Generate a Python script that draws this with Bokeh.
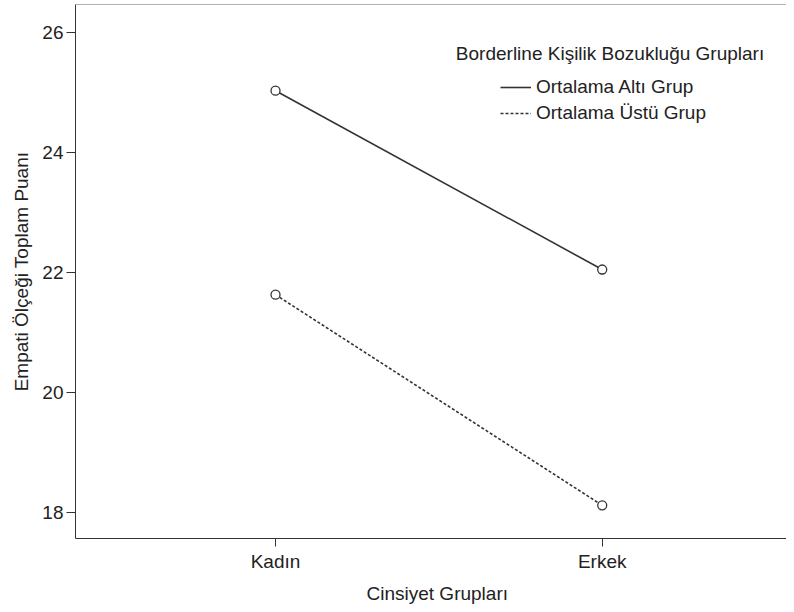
from bokeh.plotting import figure
from bokeh.models import Range1d, FixedTicker, Legend, LegendItem, Label, Span, Title
from bokeh.embed import file_html
from bokeh.resources import INLINE

# ---- data ----
categories = ["Kadın", "Erkek"]
groups = ["Ortalama Altı Grup", "Ortalama Üstü Grup"]
alti_values = [25.03, 22.05]
ustu_values = [21.63, 18.12]
y_ticks = [18, 20, 22, 24, 26]
legend_title = "Borderline Kişilik Bozukluğu Grupları"
x_label = "Cinsiyet Grupları"
y_label = "Empati Ölçeği Toplam Puanı"

FONT = "Liberation Sans"
FS = "19px"
TXT = "#222222"
LINE = "#333333"

x = list(range(1, len(categories) + 1))

Y0, Y1 = 17.567, 26.467
p = figure(width=786, height=610, output_backend="svg", toolbar_location=None,
           x_range=Range1d(0.3878, 2.5641), y_range=Range1d(Y0, Y1),
           min_border_left=75, min_border_right=0, min_border_top=4,
           min_border_bottom=72)
p.outline_line_color = None
p.xgrid.visible = False
p.ygrid.visible = False
p.background_fill_color = "white"
p.border_fill_color = "white"

# x axis
p.xaxis.ticker = FixedTicker(ticks=x)
p.xaxis.major_label_overrides = {xi: c for xi, c in zip(x, categories)}
p.xaxis.minor_tick_line_color = None
p.xaxis.major_tick_in = 0
p.xaxis.major_tick_out = 8
p.xaxis.major_label_standoff = 4

# y axis
p.yaxis.ticker = FixedTicker(ticks=y_ticks)
p.yaxis.minor_tick_line_color = None
p.yaxis.major_tick_in = 0
p.yaxis.major_tick_out = 9
p.yaxis.major_label_standoff = 3
p.yaxis.axis_label = y_label
p.yaxis.axis_label_standoff = 7

for ax in (p.xaxis, p.yaxis):
    ax.axis_line_color = LINE
    ax.major_tick_line_color = LINE
    ax.major_label_text_font = FONT
    ax.major_label_text_font_size = FS
    ax.major_label_text_color = TXT
    ax.axis_label_text_font = FONT
    ax.axis_label_text_font_size = FS
    ax.axis_label_text_font_style = "normal"
    ax.axis_label_text_color = TXT

# x axis title, placed under the axis and centred on the original (wider) frame
p.add_layout(Title(text=x_label, align="left", offset=291, standoff=12,
                   text_font=FONT, text_font_size=FS, text_font_style="normal",
                   text_color=TXT), "below")

# top border
p.add_layout(Span(location=Y1, dimension="width", line_color="#666666", line_width=1))

# series
r1 = p.line(x, alti_values, line_color=LINE, line_width=1.6)
r2 = p.line(x, ustu_values, line_color=LINE, line_width=1.6, line_dash="3 2")
p.scatter(x, alti_values, marker="circle", size=9, fill_color="white",
          line_color=LINE, line_width=1.3)
p.scatter(x, ustu_values, marker="circle", size=9, fill_color="white",
          line_color=LINE, line_width=1.3)

legend = Legend(items=[LegendItem(label=groups[0], renderers=[r1]),
                       LegendItem(label=groups[1], renderers=[r2])],
                location=(425, 414), padding=0, spacing=4, glyph_width=31,
                label_standoff=5, border_line_color=None,
                background_fill_alpha=0, label_text_font=FONT,
                label_text_font_size=FS, label_text_color=TXT)
p.add_layout(legend)

p.add_layout(Label(x=2.024, y=25.65, text=legend_title, text_align="center",
                   text_baseline="middle", text_font=FONT, text_font_size=FS,
                   text_color=TXT))

open("out.html", "w").write(file_html(p, INLINE))
